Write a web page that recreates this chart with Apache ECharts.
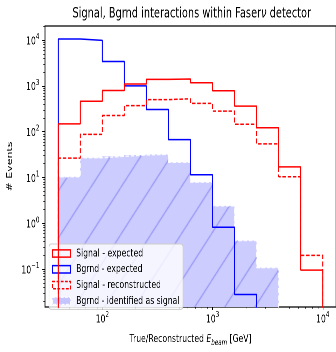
<!DOCTYPE html>
<html>
<head>
<meta charset="utf-8">
<script src="https://cdn.jsdelivr.net/npm/echarts@6/dist/echarts.min.js"></script>
<style>
  html, body { margin: 0; padding: 0; overflow: hidden; background: #fff; }
  /* the chart is laid out on a wider surface and squeezed horizontally */
  #chart { width: 480px; height: 352px; transform: scaleX(0.7); transform-origin: 0 0; }
</style>
</head>
<body>
<div id="chart"></div>
<script>
// Histogram bin edges in GeV (log-spaced, 0.2 decade per bin)
const binEdges = [39.81, 63.10, 100, 158.49, 251.19, 398.11, 630.96, 1000, 1584.9, 2511.9, 3981.1, 6309.6, 10000];

// Event counts per bin
const signalExpected      = [148, 460, 790, 1100, 1380, 1410, 1170, 780, 360, 122, 17, 0.095];
const bgrndExpected       = [10500, 9800, 3400, 1000, 305, 67, 11.5, 0.82, 0.028, 0, 0, 0];
const signalReconstructed = [26.5, 87, 225, 370, 500, 520, 415, 280, 145, 54, 10.4, 0.2];
const bgrndIdentified     = [10.4, 27, 29, 31, 32, 21.5, 7.9, 2.4, 0.42, 0.108, 0, 0];

const seriesNames = ['Signal - expected', 'Bgrnd - expected', 'Signal - reconstructed', 'Bgrnd - identified as signal'];

// Tick positions
const xMajorTicks = [100, 1000, 10000];
const xMinorTicks = [40, 50, 60, 70, 80, 90, 200, 300, 400, 500, 600, 700, 800, 900,
                     2000, 3000, 4000, 5000, 6000, 7000, 8000, 9000];
const yMajorTicks = [0.1, 1, 10, 100, 1000, 10000];
const yMinorTicks = [0.02, 0.03, 0.04, 0.05, 0.06, 0.07, 0.08, 0.09,
                     0.2, 0.3, 0.4, 0.5, 0.6, 0.7, 0.8, 0.9,
                     2, 3, 4, 5, 6, 7, 8, 9,
                     20, 30, 40, 50, 60, 70, 80, 90,
                     200, 300, 400, 500, 600, 700, 800, 900,
                     2000, 3000, 4000, 5000, 6000, 7000, 8000, 9000, 20000];

const X_MIN = 30.2, X_MAX = 13183;
const Y_MIN = 0.0149, Y_MAX = 20230;
const FLOOR = 1e-4;            // empty bins sit below the visible range of the log axis
const FONT = 'DejaVu Sans';

// Closed step outline of a histogram, as [x, y] corner points
function stepOutline(edges, counts) {
  const pts = [[edges[0], FLOOR]];
  counts.forEach((c, i) => {
    const v = c > 0 ? c : FLOOR;
    pts.push([edges[i], v], [edges[i + 1], v]);
  });
  pts.push([edges[edges.length - 1], FLOOR]);
  return pts;
}

// Diagonal ("/") hatch tile on a light blue ground
function makeHatch() {
  const w = 43, h = 47;
  const c = document.createElement('canvas');
  c.width = w; c.height = h;
  const ctx = c.getContext('2d');
  ctx.fillStyle = 'rgb(204,204,255)';
  ctx.fillRect(0, 0, w, h);
  ctx.strokeStyle = 'rgb(146,146,246)';
  ctx.lineWidth = 1.3;
  for (const k of [-1, 0, 1]) {
    ctx.beginPath();
    ctx.moveTo(k * w, h);
    ctx.lineTo(k * w + w, 0);
    ctx.stroke();
  }
  return c;
}
const hatch = { image: makeHatch(), repeat: 'repeat' };

function powLabel(v) {
  const e = Math.round(Math.log10(v));
  return '{b|10}{s|' + (e < 0 ? '\u2212' + (-e) : e) + '}';
}
const powRich = {
  b: { fontSize: 11, fontFamily: FONT, color: '#000', padding: [3, 0, 0, 0] },
  s: { fontSize: 8, fontFamily: FONT, color: '#000', verticalAlign: 'top' }
};

const snap = (v) => Math.round(v * 2) / 2;

const chart = echarts.init(document.getElementById('chart'), null, { renderer: 'canvas', devicePixelRatio: 2 });

chart.setOption({
  animation: false,
  textStyle: { fontFamily: FONT },
  title: {
    text: 'Signal, Bgrnd interactions within Faser{it|ν} detector',
    left: 273.9, top: 7, textAlign: 'center', padding: 0,
    textStyle: {
      fontSize: 14, fontWeight: 'normal', color: '#000', fontFamily: FONT,
      rich: { it: { fontSize: 14, fontStyle: 'italic', fontFamily: FONT, color: '#000' } }
    }
  },
  grid: {
    left: 64.3, top: 26, width: 419, height: 291,
    show: true, borderColor: '#000', borderWidth: 1.2, backgroundColor: 'transparent'
  },
  legend: {
    orient: 'vertical', left: 70, top: 244,
    padding: [4, 5, 3, 4], itemGap: 4.8, itemWidth: 26, itemHeight: 7.3,
    backgroundColor: 'rgba(255,255,255,0.8)', borderColor: '#cccccc', borderWidth: 1, borderRadius: 3,
    selectedMode: false,
    textStyle: { fontSize: 11, color: '#000', fontFamily: FONT, padding: [0, 0, 0, 3] },
    data: [
      { name: seriesNames[0], icon: 'rect', itemStyle: { color: 'rgba(255,255,255,0)', borderColor: '#ff0000', borderWidth: 1.5, borderType: 'solid' } },
      { name: seriesNames[1], icon: 'rect', itemStyle: { color: 'rgba(255,255,255,0)', borderColor: '#0000ff', borderWidth: 1.5, borderType: 'solid' } },
      { name: seriesNames[2], icon: 'rect', itemStyle: { color: 'rgba(255,255,255,0)', borderColor: '#ff0000', borderWidth: 1.5, borderType: [4, 2] } },
      { name: seriesNames[3], icon: 'rect', itemStyle: { color: 'rgba(0,0,255,0.2)', borderColor: 'rgba(255,255,255,0.85)', borderWidth: 1.5, borderType: [4, 2] } }
    ]
  },
  xAxis: [
    {
      type: 'log', min: X_MIN, max: X_MAX, position: 'bottom',
      axisLine: { show: false }, splitLine: { show: false },
      axisTick: { customValues: xMajorTicks, length: 3, lineStyle: { color: '#000', width: 1 } },
      axisLabel: { customValues: xMajorTicks, formatter: powLabel, margin: 4, rich: powRich },
      name: 'True/Reconstructed {i|E}{sub|beam} [GeV]',
      nameLocation: 'middle', nameGap: 24,
      nameTextStyle: {
        fontSize: 11, color: '#000', fontFamily: FONT,
        rich: {
          i: { fontSize: 11, fontStyle: 'italic', fontFamily: FONT, color: '#000' },
          sub: { fontSize: 8, fontStyle: 'italic', fontFamily: FONT, color: '#000', verticalAlign: 'bottom', padding: [8, 0, 0, 0] }
        }
      }
    },
    {
      type: 'log', min: X_MIN, max: X_MAX, position: 'bottom',
      axisLine: { show: false }, splitLine: { show: false }, axisLabel: { show: false },
      axisTick: { customValues: xMinorTicks, length: 1.8, lineStyle: { color: '#000', width: 0.8 } }
    }
  ],
  yAxis: [
    {
      type: 'log', min: Y_MIN, max: Y_MAX, position: 'left',
      axisLine: { show: false }, splitLine: { show: false },
      axisTick: { customValues: yMajorTicks, length: 4, lineStyle: { color: '#000', width: 1 } },
      axisLabel: { customValues: yMajorTicks, formatter: powLabel, margin: 8, rich: powRich },
      name: '# Events', nameLocation: 'middle', nameGap: 38, nameRotate: 90,
      nameTextStyle: { fontSize: 11, color: '#000', fontFamily: FONT }
    },
    {
      type: 'log', min: Y_MIN, max: Y_MAX, position: 'left',
      axisLine: { show: false }, splitLine: { show: false }, axisLabel: { show: false },
      axisTick: { customValues: yMinorTicks, length: 2.4, lineStyle: { color: '#000', width: 0.8 } }
    }
  ],
  series: [
    {
      name: seriesNames[3], type: 'custom', xAxisIndex: 0, yAxisIndex: 0, clip: true, z: 1,
      encode: { x: [0, 1], y: 2 },
      data: bgrndIdentified.map((v, i) => [binEdges[i], binEdges[i + 1], v]),
      renderItem: function (params, api) {
        const v = api.value(2);
        if (!(v > 0)) return null;
        const p0 = api.coord([api.value(0), v]);
        const p1 = api.coord([api.value(1), Y_MIN]);
        const x0 = snap(p0[0]), x1 = snap(p1[0]);
        return {
          type: 'rect',
          shape: { x: x0, y: p0[1], width: x1 - x0, height: p1[1] - p0[1] },
          style: { fill: hatch }
        };
      }
    },
    {
      type: 'line', silent: true, z: 2, symbol: 'none', showSymbol: false,
      data: stepOutline(binEdges, bgrndIdentified),
      lineStyle: { color: 'rgba(255,255,255,0.85)', width: 1.5, type: [5, 2.5] }
    },
    {
      name: seriesNames[1], type: 'line', z: 3, symbol: 'none', showSymbol: false,
      data: stepOutline(binEdges, bgrndExpected),
      itemStyle: { color: '#0000ff' },
      lineStyle: { color: '#0000ff', width: 1.5 }
    },
    {
      name: seriesNames[0], type: 'line', z: 4, symbol: 'none', showSymbol: false,
      data: stepOutline(binEdges, signalExpected),
      itemStyle: { color: '#ff0000' },
      lineStyle: { color: '#ff0000', width: 1.5 }
    },
    {
      name: seriesNames[2], type: 'line', z: 5, symbol: 'none', showSymbol: false,
      data: stepOutline(binEdges, signalReconstructed),
      itemStyle: { color: '#ff0000' },
      lineStyle: { color: '#ff0000', width: 1.5, type: [5, 2.5] }
    }
  ]
});
</script>
</body>
</html>
